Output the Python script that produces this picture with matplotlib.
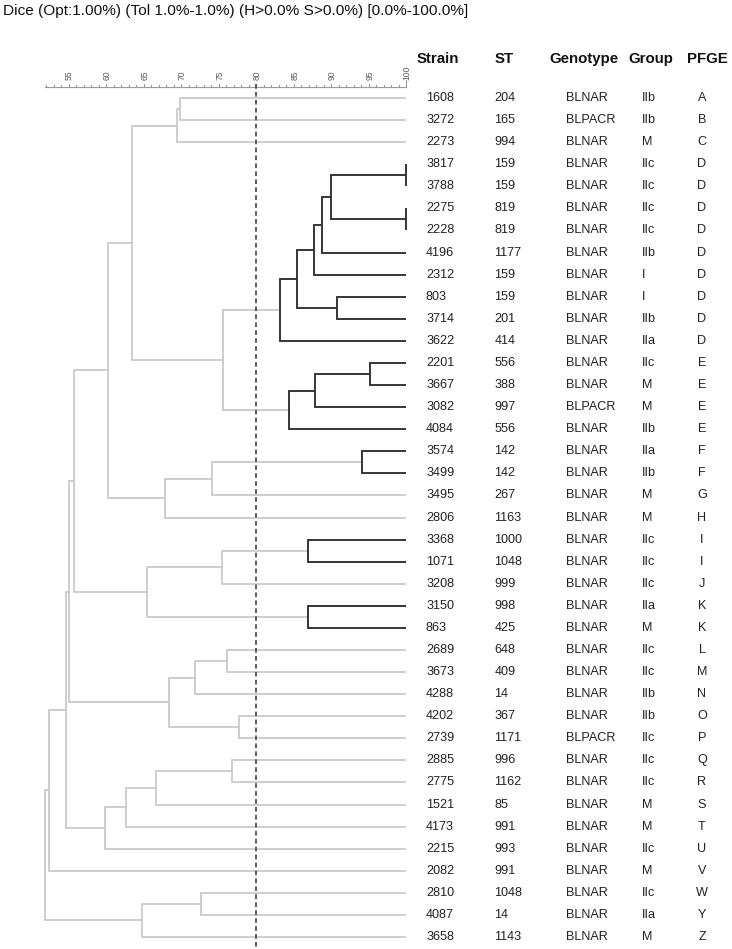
import matplotlib
matplotlib.use("Agg")
import matplotlib.pyplot as plt
from matplotlib.transforms import blended_transform_factory
import numpy as np

# ---------------- data ----------------
title = "Dice (Opt:1.00%) (Tol 1.0%-1.0%) (H>0.0% S>0.0%) [0.0%-100.0%]"
headers = ["Strain", "ST", "Genotype", "Group", "PFGE"]

strains = ["1608", "3272", "2273", "3817", "3788", "2275", "2228", "4196", "2312", "803",
           "3714", "3622", "2201", "3667", "3082", "4084", "3574", "3499", "3495", "2806",
           "3368", "1071", "3208", "3150", "863", "2689", "3673", "4288", "4202", "2739",
           "2885", "2775", "1521", "4173", "2215", "2082", "2810", "4087", "3658"]
st = ["204", "165", "994", "159", "159", "819", "819", "1177", "159", "159",
      "201", "414", "556", "388", "997", "556", "142", "142", "267", "1163",
      "1000", "1048", "999", "998", "425", "648", "409", "14", "367", "1171",
      "996", "1162", "85", "991", "993", "991", "1048", "14", "1143"]
genotype = ["BLNAR", "BLPACR", "BLNAR", "BLNAR", "BLNAR", "BLNAR", "BLNAR", "BLNAR", "BLNAR", "BLNAR",
            "BLNAR", "BLNAR", "BLNAR", "BLNAR", "BLPACR", "BLNAR", "BLNAR", "BLNAR", "BLNAR", "BLNAR",
            "BLNAR", "BLNAR", "BLNAR", "BLNAR", "BLNAR", "BLNAR", "BLNAR", "BLNAR", "BLNAR", "BLPACR",
            "BLNAR", "BLNAR", "BLNAR", "BLNAR", "BLNAR", "BLNAR", "BLNAR", "BLNAR", "BLNAR"]
group = ["IIb", "IIb", "M", "IIc", "IIc", "IIc", "IIc", "IIb", "I", "I",
         "IIb", "IIa", "IIc", "M", "M", "IIb", "IIa", "IIb", "M", "M",
         "IIc", "IIc", "IIc", "IIa", "M", "IIc", "IIc", "IIb", "IIb", "IIc",
         "IIc", "IIc", "M", "M", "IIc", "M", "IIc", "IIa", "M"]
pfge = ["A", "B", "C", "D", "D", "D", "D", "D", "D", "D",
        "D", "D", "E", "E", "E", "E", "F", "F", "G", "H",
        "I", "I", "J", "K", "K", "L", "M", "N", "O", "P",
        "Q", "R", "S", "T", "U", "V", "W", "Y", "Z"]

# merges: node ids 0..38 are leaves, new nodes numbered from 39 in order
merge_a = [0, 39, 3, 5, 41, 43, 44, 9, 45, 47, 12, 49, 50, 48, 40, 16, 54, 55, 53,
           20, 58, 23, 59, 57, 25, 63, 28, 64, 62, 30, 68, 69, 70, 67, 72, 36, 74, 73]
merge_b = [1, 2, 4, 6, 42, 7, 8, 10, 46, 11, 13, 14, 15, 51, 52, 17, 18, 19, 56,
           21, 22, 24, 60, 61, 26, 27, 29, 65, 66, 31, 32, 33, 34, 71, 35, 37, 38, 75]
merge_sim = [69.9, 69.5, 100.0, 100.0, 90.0, 88.8, 87.7, 90.8, 85.4, 83.2, 95.2, 87.8, 84.4,
             75.6, 63.5, 94.1, 74.1, 67.9, 60.3, 86.9, 75.4, 86.9, 65.4, 55.7, 76.1, 71.8,
             77.7, 68.4, 55.0, 76.8, 66.6, 62.7, 59.9, 54.6, 52.4, 72.7, 64.8, 51.8]

cutoff = 80.0
scale_min = 51.9

# ---------------- layout ----------------
W, H = 732, 949
fig = plt.figure(figsize=(W / 100, H / 100), dpi=100)
ax = fig.add_axes([0, 0, 1, 1])
ax.set_axis_off()

px_per_unit = 7.5
x80_px = 256.0
row0_px = 98.0
row_px = 22.08
ax.set_xlim(80 - x80_px / px_per_unit, 80 + (W - x80_px) / px_per_unit)
ax.set_ylim((H - row0_px) / row_px, -row0_px / row_px)

plt.rcParams['font.family'] = ['Liberation Sans', 'DejaVu Sans']

gray = "#c6c6c6"
dark = "#2e2e2e"

n = len(strains)
node_x = {i: 100.0 for i in range(n)}
node_y = {i: float(i) for i in range(n)}
for k, (a, b, s) in enumerate(zip(merge_a, merge_b, merge_sim)):
    nid = n + k
    node_x[nid] = s
    node_y[nid] = (node_y[a] + node_y[b]) / 2
    col = dark if s >= cutoff else gray
    lw = 1.35 if s >= cutoff else 1.2
    z = 3 if s >= cutoff else 2
    ax.plot([node_x[a], s, s, node_x[b]], [node_y[a], node_y[a], node_y[b], node_y[b]],
            color=col, lw=lw, solid_capstyle='butt', solid_joinstyle='miter', zorder=z)

# cutoff dashed line
ax.plot([cutoff, cutoff], [-(row0_px - 84) / row_px, (H - 1 - row0_px) / row_px],
        color="#505050", lw=1.3, ls=(0, (2.6, 1.8)), zorder=4)

# similarity scale
axis_y = -(row0_px - 86.5) / row_px
ax.plot([scale_min, 100], [axis_y, axis_y], color="#9a9a9a", lw=0.8, zorder=1)
for t in np.arange(52, 101, 1):
    h = 2.0 / row_px
    if t == 100:
        h = 7.0 / row_px
    elif t % 5 == 0:
        h = 3.0 / row_px
    ax.plot([t, t], [axis_y, axis_y - h], color="#9a9a9a", lw=0.8, zorder=1)
for t in np.arange(55, 101, 5):
    ax.text(t + 0.15, axis_y - 6.5 / row_px, str(t), rotation=90, fontsize=6.2,
            color="#5a5a5a", ha='center', va='bottom')

# title
ax.text(3.3 / W, -(row0_px - 11) / row_px, title, fontsize=11.1, color="#111111",
        transform=blended_transform_factory(ax.transAxes, ax.transData),
        ha='left', va='center')

# table
tr = blended_transform_factory(ax.transAxes, ax.transData)
hdr_y = -(row0_px - 58.5) / row_px
hdr_x = [416.5, 494.3, 549.0, 628.7, 687.3]
for hx, ht in zip(hdr_x, headers):
    ax.text(hx / W, hdr_y, ht, fontsize=10.8, fontweight='bold', color="#111111",
            transform=tr, ha='left', va='center')

col_x = [426.0, 494.3, 565.7, 642.3, 702.0]
col_ha = ['left', 'left', 'left', 'left', 'center']
for i in range(n):
    vals = [strains[i], st[i], genotype[i], group[i], pfge[i]]
    for cx, ha, v in zip(col_x, col_ha, vals):
        ax.text(cx / W, i, v, fontsize=9.1, color="#222222", transform=tr,
                ha=ha, va='center')

fig.savefig("out.png", dpi=100)
